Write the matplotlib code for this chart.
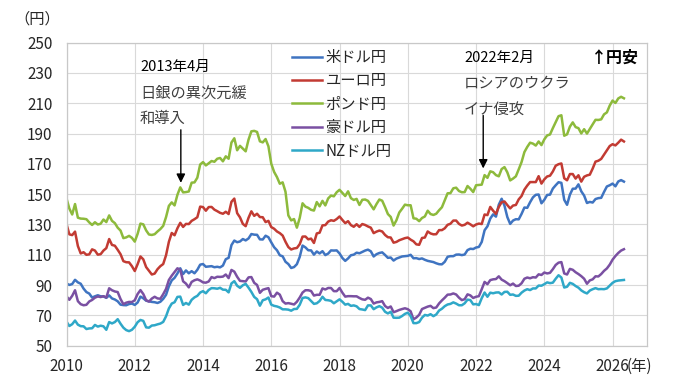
import numpy as np
import matplotlib
matplotlib.use("Agg")
from matplotlib import pyplot as plt

plt.rcParams['font.family'] = ['Noto Sans CJK JP', 'DejaVu Sans']

# monthly values, Jan 2010 - May 2026
usd = [91.1, 90.1, 90.7, 93.5, 91.8, 90.9, 87.7, 85.4, 84.4, 81.8, 82.6, 83.3,
       82.6, 82.5, 81.6, 83.2, 81.2, 80.5, 79.3, 77.1, 76.8, 76.7, 77.5, 77.8,
       76.9, 78.5, 82.4, 81.3, 79.7, 79.3, 78.9, 78.7, 78.2, 79.0, 80.9, 83.6,
       89.2, 93.1, 94.8, 97.7, 101.1, 97.3, 99.7, 97.8, 99.2, 97.8, 100.1, 103.5,
       103.9, 102.1, 102.3, 102.5, 101.8, 102.1, 101.7, 102.9, 107.1, 108.0, 116.4, 119.4,
       118.3, 118.8, 120.4, 119.5, 120.8, 123.7, 123.3, 123.2, 120.2, 120.1, 122.6, 121.6,
       118.2, 115.0, 113.0, 109.7, 109.0, 105.4, 103.9, 101.3, 101.9, 103.8, 108.6, 116.1,
       114.9, 113.0, 112.9, 110.1, 112.2, 110.9, 112.4, 109.8, 110.8, 112.9, 112.8, 112.9,
       110.9, 107.9, 106.0, 107.6, 109.7, 110.1, 111.4, 111.0, 111.9, 112.8, 113.4, 112.3,
       108.9, 110.4, 111.2, 111.6, 109.9, 108.0, 108.2, 106.2, 107.5, 108.2, 108.9, 109.1,
       109.3, 110.0, 107.7, 107.8, 107.2, 107.6, 106.7, 106.0, 105.6, 105.2, 104.4, 103.8,
       103.7, 105.4, 108.7, 109.1, 109.1, 110.1, 110.2, 109.8, 110.2, 113.1, 114.0, 113.8,
       114.8, 115.2, 118.5, 126.2, 128.8, 133.9, 136.7, 135.2, 143.1, 147.0, 142.4, 134.9,
       130.4, 132.6, 133.5, 133.4, 137.0, 141.2, 141.0, 144.7, 147.9, 149.6, 149.8, 144.0,
       146.3, 149.5, 149.7, 153.7, 155.9, 157.9, 157.5, 146.3, 143.0, 149.7, 153.6, 153.7,
       156.5, 151.9, 149.1, 144.2, 144.9, 144.5, 146.8, 147.4, 147.6, 151.5, 155.1, 155.9,
       157.0, 155.2, 158.4, 159.3, 158.3]

eur = [130.3, 123.5, 123.0, 125.3, 115.8, 110.9, 111.7, 110.0, 110.3, 113.6, 112.8, 110.1,
       110.4, 112.8, 114.4, 120.4, 116.5, 116.0, 113.3, 110.4, 105.8, 105.1, 105.0, 102.5,
       99.3, 103.8, 108.9, 107.0, 101.9, 99.4, 97.0, 97.6, 100.5, 102.5, 103.9, 109.7,
       118.6, 124.4, 122.9, 127.5, 131.1, 128.4, 130.4, 130.3, 132.4, 133.5, 134.8, 141.8,
       141.5, 139.1, 141.5, 141.6, 139.8, 138.8, 137.7, 137.1, 138.4, 136.9, 145.0, 147.1,
       137.5, 134.7, 130.4, 128.9, 134.4, 138.7, 135.7, 137.1, 134.9, 134.8, 131.6, 132.4,
       128.3, 127.2, 125.4, 124.3, 122.7, 118.6, 115.1, 113.5, 114.2, 114.5, 117.0, 122.0,
       122.1, 120.2, 120.7, 117.8, 124.1, 124.6, 129.4, 129.6, 131.9, 132.8, 132.4, 133.6,
       135.3, 133.0, 130.9, 132.2, 129.6, 128.5, 130.2, 128.4, 130.3, 129.7, 128.7, 127.9,
       124.3, 125.3, 126.0, 125.4, 123.1, 121.6, 121.4, 118.0, 118.5, 119.6, 120.3, 121.0,
       121.4, 120.0, 118.9, 116.9, 116.6, 121.1, 121.4, 125.4, 124.1, 123.5, 123.6, 126.3,
       126.3, 127.5, 129.8, 130.5, 132.6, 132.6, 130.4, 129.3, 129.8, 131.2, 130.1, 128.8,
       130.0, 130.6, 130.3, 136.6, 136.2, 141.6, 139.1, 137.0, 141.6, 144.7, 145.2, 142.8,
       140.6, 142.5, 142.9, 146.6, 148.8, 153.0, 155.7, 158.0, 158.0, 158.0, 161.9, 157.0,
       159.8, 161.7, 162.2, 165.0, 168.8, 169.8, 170.3, 160.5, 159.2, 163.3, 163.3, 160.3,
       162.5, 158.3, 161.5, 162.4, 162.9, 166.9, 171.5, 172.1, 173.3, 176.1, 178.8, 181.8,
       183.0, 182.2, 184.0, 186.0, 184.8]

gbp = [147.2, 140.5, 136.6, 143.5, 134.5, 133.9, 133.8, 133.5, 131.4, 129.7, 131.5, 130.0,
       130.5, 133.3, 131.6, 136.0, 132.4, 130.9, 127.9, 126.0, 121.0, 121.5, 122.5, 121.2,
       118.7, 123.8, 130.6, 130.1, 126.1, 123.4, 123.1, 123.6, 125.4, 127.0, 129.1, 134.9,
       142.3, 144.6, 142.6, 149.6, 154.5, 151.2, 151.4, 151.8, 157.6, 157.8, 160.9, 169.6,
       171.2, 169.0, 170.4, 171.9, 171.4, 173.4, 173.9, 171.7, 175.0, 173.4, 184.1, 186.9,
       179.0, 181.9, 180.1, 178.3, 186.0, 191.5, 191.8, 191.1, 184.9, 184.2, 186.4, 181.6,
       170.1, 164.7, 161.3, 156.9, 157.8, 151.6, 136.0, 132.7, 133.6, 127.9, 134.3, 144.0,
       141.8, 141.0, 139.7, 139.2, 144.8, 142.0, 145.6, 142.6, 147.2, 149.1, 148.6, 151.3,
       152.9, 150.8, 148.8, 151.9, 147.4, 146.2, 146.9, 142.9, 146.3, 146.5, 145.6, 142.8,
       140.0, 143.5, 146.5, 145.7, 141.5, 136.9, 135.0, 129.3, 132.8, 137.9, 140.4, 143.1,
       142.7, 142.7, 134.1, 133.8, 132.2, 134.3, 135.3, 139.1, 136.9, 136.3, 137.1, 139.4,
       141.4, 146.0, 150.6, 150.7, 153.9, 154.3, 152.1, 151.3, 151.4, 155.4, 153.6, 151.4,
       155.9, 156.1, 156.3, 162.6, 160.8, 165.1, 164.5, 162.6, 161.8, 166.6, 167.9, 164.4,
       159.1, 160.3, 161.8, 166.4, 171.2, 177.8, 181.2, 184.0, 183.4, 182.1, 184.8, 182.4,
       186.2, 188.8, 189.4, 193.6, 197.5, 201.5, 202.1, 188.6, 189.5, 194.6, 197.4, 194.3,
       193.6, 190.1, 192.9, 190.0, 193.1, 196.1, 199.1, 199.0, 199.4, 202.7, 204.0, 208.5,
       211.8, 210.2, 213.2, 214.3, 213.3]

aud = [82.6, 80.3, 82.9, 86.6, 79.4, 77.4, 76.7, 77.0, 79.2, 80.2, 81.7, 82.5,
       82.1, 82.7, 81.8, 87.9, 86.6, 85.8, 85.4, 80.8, 77.4, 78.4, 78.9, 78.8,
       80.0, 84.1, 86.7, 84.1, 80.0, 79.1, 81.1, 82.3, 81.2, 81.0, 84.0, 87.5,
       93.4, 96.2, 98.7, 101.1, 100.1, 92.5, 91.0, 88.5, 92.1, 93.2, 93.8, 93.0,
       91.8, 91.6, 92.4, 95.3, 94.6, 95.5, 95.4, 95.6, 97.0, 94.6, 100.0, 98.9,
       95.5, 92.8, 92.6, 92.4, 95.1, 95.3, 91.5, 90.1, 84.9, 86.9, 87.5, 88.0,
       82.7, 82.4, 85.0, 83.7, 79.4, 77.8, 78.1, 77.7, 77.2, 79.0, 81.8, 85.1,
       86.6, 86.6, 86.1, 83.1, 83.6, 83.6, 87.8, 87.1, 88.1, 88.1, 86.0, 86.0,
       88.1, 85.0, 82.4, 82.7, 82.7, 82.6, 82.6, 81.5, 80.6, 80.3, 81.7, 80.8,
       77.8, 78.6, 78.9, 79.4, 76.2, 74.9, 75.9, 72.1, 72.8, 73.6, 74.2, 74.7,
       74.1, 72.7, 67.4, 68.6, 70.4, 74.2, 75.0, 75.8, 76.3, 74.8, 75.2, 77.9,
       79.9, 81.7, 83.7, 83.8, 84.5, 83.8, 81.7, 80.1, 80.7, 83.9, 83.2, 81.5,
       82.3, 82.7, 87.3, 92.1, 90.6, 93.3, 93.8, 94.0, 95.8, 93.6, 92.6, 91.3,
       89.9, 91.0, 89.4, 89.6, 91.2, 94.2, 95.0, 94.5, 95.2, 95.0, 97.1, 96.7,
       98.3, 97.7, 98.1, 100.5, 103.3, 104.8, 105.2, 97.7, 97.0, 100.7, 100.1, 98.5,
       97.3, 95.9, 94.2, 90.9, 93.1, 93.8, 95.8, 95.7, 97.3, 99.4, 101.0, 103.5,
       106.8, 109.2, 111.2, 112.8, 113.7]

nzd = [65.9, 63.0, 64.2, 66.6, 63.9, 62.9, 62.8, 61.0, 61.4, 61.5, 63.7, 62.6,
       63.2, 62.8, 60.5, 65.6, 64.7, 65.6, 67.5, 64.5, 61.9, 60.3, 59.6, 60.5,
       62.5, 65.5, 67.0, 66.4, 62.1, 61.9, 63.3, 63.5, 64.1, 64.6, 65.7, 69.4,
       74.6, 77.8, 78.7, 82.2, 82.4, 76.9, 78.2, 77.1, 80.3, 81.9, 82.9, 85.1,
       86.0, 84.6, 86.8, 88.0, 87.9, 87.6, 88.2, 87.0, 86.9, 85.2, 91.1, 92.6,
       89.6, 88.2, 89.9, 90.8, 88.3, 85.5, 82.2, 80.7, 76.4, 80.0, 80.6, 81.8,
       77.1, 76.3, 75.9, 75.2, 74.0, 74.0, 73.8, 73.1, 74.2, 74.3, 77.0, 81.5,
       81.9, 81.4, 79.5, 77.6, 78.0, 79.5, 82.3, 80.2, 80.0, 79.6, 78.0, 79.3,
       80.6, 79.0, 77.1, 77.6, 76.3, 76.6, 76.0, 74.2, 73.9, 73.5, 76.6, 76.6,
       74.1, 75.3, 76.1, 75.1, 72.4, 71.3, 72.4, 68.5, 68.4, 68.5, 69.6, 71.0,
       71.8, 69.5, 64.9, 64.9, 65.6, 68.5, 70.3, 69.9, 70.8, 69.5, 70.6, 73.2,
       74.4, 76.1, 77.2, 77.6, 78.6, 77.8, 76.7, 76.7, 78.0, 80.4, 80.1, 77.3,
       77.5, 76.8, 81.4, 85.1, 82.3, 85.0, 84.6, 85.1, 85.2, 83.8, 85.5, 85.6,
       83.6, 83.8, 82.9, 83.0, 85.0, 86.4, 87.3, 86.7, 87.8, 87.8, 89.7, 89.6,
       90.6, 91.8, 91.3, 91.6, 94.2, 96.5, 95.0, 88.4, 88.9, 91.5, 90.8, 89.4,
       88.3, 86.5, 85.3, 84.5, 86.4, 87.3, 88.0, 87.3, 87.4, 87.3, 87.8, 89.6,
       91.5, 92.6, 93.0, 93.2, 93.4]

names = ['米ドル円', 'ユーロ円', 'ポンド円', '豪ドル円', 'NZドル円']
colors = ['#3F74C1', '#C23B33', '#8DBA3C', '#7A50A2', '#2FA8C8']
series = [usd, eur, gbp, aud, nzd]

x = 2010 + np.arange(len(usd)) / 12.0

W, H = 680, 385
fig = plt.figure(figsize=(W / 100, H / 100), dpi=100)
ax = fig.add_axes([66.5 / W, 1 - 345.7 / H, (646.7 - 66.5) / W, (345.7 - 42.7) / H])

for s, c, n in zip(series, colors, names):
    ax.plot(x, s, color=c, lw=1.8, label=n)

ax.set_xlim(2010, 2027)
ax.set_ylim(50, 250)
ax.set_xticks(range(2010, 2027, 2))
ax.set_yticks(range(50, 251, 20))
ax.grid(True, color='#d9d9d9', lw=0.8)
ax.set_axisbelow(True)
for sp in ax.spines.values():
    sp.set_color('#c8c8c8')
    sp.set_linewidth(0.9)
ax.tick_params(length=0, labelsize=11, colors='#262626')
ax.tick_params(axis='y', pad=10)
ax.tick_params(axis='x', pad=9)

leg = ax.legend(loc='upper left', bbox_to_anchor=(292 / W, 1 - 49 / H),
                bbox_transform=fig.transFigure, frameon=False, fontsize=11,
                handlelength=1.95, handletextpad=0.25, labelspacing=0.42,
                borderpad=0, borderaxespad=0)
for t in leg.get_texts():
    t.set_color('#262626')

def ftxt(px, py, s, **kw):
    fig.text(px / W, 1 - py / H, s, va='center', **kw)

ftxt(14, 19, '（円）', fontsize=11, color='#262626')
ftxt(627, 366, '(年)', fontsize=11, color='#262626')
ftxt(639, 58, '↑円安', fontsize=11.5, fontweight='bold', ha='right', color='black')

ftxt(140, 67, '2013年4月', fontsize=10.5, color='black')
ftxt(140, 93, '日銀の異次元緩', fontsize=11, color='#404040')
ftxt(140, 118, '和導入', fontsize=11, color='#404040')

ftxt(464, 58, '2022年2月', fontsize=10.5, color='black')
ftxt(464, 83.5, 'ロシアのウクラ', fontsize=11, color='#404040')
ftxt(464, 110, 'イナ侵攻', fontsize=11, color='#404040')

arrow = dict(arrowstyle='-|>', color='black', lw=1, mutation_scale=13, shrinkA=0, shrinkB=0)
ax.annotate('', xy=(2013.35, 157.5), xytext=(2013.35, 192.5), arrowprops=arrow)
ax.annotate('', xy=(2022.21, 167), xytext=(2022.21, 202), arrowprops=arrow)

fig.savefig('out.png', dpi=100)
